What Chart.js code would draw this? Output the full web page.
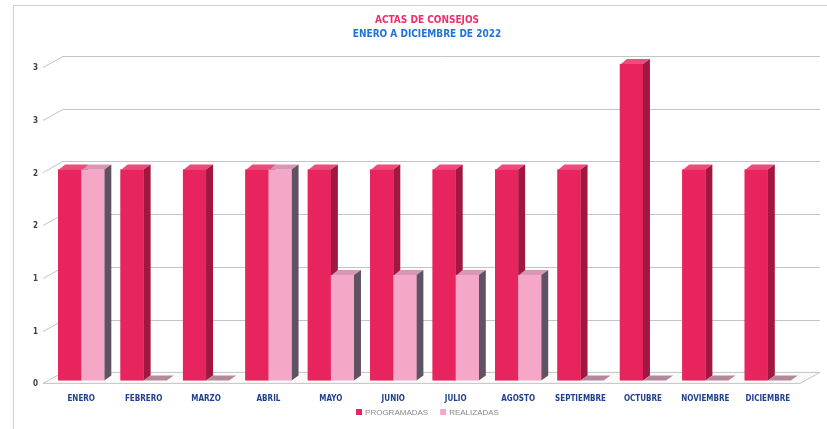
<!DOCTYPE html>
<html><head><meta charset="utf-8">
<script src="https://cdn.jsdelivr.net/npm/chart.js@4/dist/chart.umd.min.js"></script>
<style>html,body{margin:0;padding:0;background:#fff}#wrap{width:827px;height:429px;position:relative}</style>
</head><body><div id="wrap"><canvas id="c" width="827" height="429"></canvas></div>
<script>
const categories = ['ENERO','FEBRERO','MARZO','ABRIL','MAYO','JUNIO','JULIO','AGOSTO','SEPTIEMBRE','OCTUBRE','NOVIEMBRE','DICIEMBRE'];
const programadas = [2,2,2,2,2,2,2,2,2,3,2,2];
const realizadas  = [2,0,0,2,1,1,1,1,0,0,0,0];
const yTickLabels = ['0','1','1','2','2','3','3'];
const seriesNames = ['PROGRAMADAS','REALIZADAS'];
const titleText = 'ACTAS DE CONSEJOS';
const subtitleText = 'ENERO A DICIEMBRE DE 2022';

const palette = [
  {front:'#e8245e', top:'#ef4a7b', side:'#a1173f', zero:'#b07a92'},
  {front:'#f5a7c8', top:'#d996b4', side:'#5f5262', zero:'#b3889c'}
];
const FONT = "'Liberation Sans Narrow','DejaVu Sans Condensed','Liberation Sans',sans-serif";
const LEGEND_FONT = "'Liberation Sans','DejaVu Sans',sans-serif";

function poly(ctx, pts, fill){
  ctx.beginPath(); ctx.moveTo(pts[0][0], pts[0][1]);
  for (let i=1;i<pts.length;i++) ctx.lineTo(pts[i][0], pts[i][1]);
  ctx.closePath(); ctx.fillStyle = fill; ctx.fill();
}

const WX = 20, WY = 11; // back wall offset
const DX = 7, DY = 5;   // bar depth

const bar3d = {
  id: 'bar3d',
  beforeDatasetsDraw(chart){
    const ctx = chart.ctx, a = chart.chartArea, ys = chart.scales.y;
    ctx.save();
    ctx.strokeStyle = '#c4c4c4'; ctx.lineWidth = 1;
    const base = ys.getPixelForValue(0);
    ctx.beginPath();
    ctx.moveTo(a.left-7, base+3); ctx.lineTo(a.right+1, base+3);
    ctx.lineTo(a.right+1+WX, base+3-WY); ctx.lineTo(a.left-7+WX, base+3-WY);
    ctx.closePath(); ctx.fillStyle='#fafafa'; ctx.fill(); ctx.stroke();
    ys.ticks.forEach(t => {
      if (t.value === 0) return;
      const y = Math.round(ys.getPixelForValue(t.value)) + 0.5;
      ctx.beginPath();
      ctx.moveTo(a.left-7, y+3);
      ctx.lineTo(a.left-7+WX, y+3-WY);
      ctx.lineTo(a.right+1+WX, y+3-WY);
      ctx.stroke();
    });
    ctx.restore();
  },
  afterDatasetsDraw(chart){
    const ctx = chart.ctx;
    const metas = [chart.getDatasetMeta(0), chart.getDatasetMeta(1)];
    ctx.save();
    for (let i=0;i<categories.length;i++){
      metas.forEach((m,k) => {
        const p = m.data[i].getProps(['x','y','base','width'], true);
        const x0 = p.x - p.width/2, x1 = p.x + p.width/2;
        const top = Math.min(p.y, p.base), base = Math.max(p.y, p.base);
        const c = palette[k];
        if (base - top < 0.5){
          poly(ctx, [[x0,base],[x1,base],[x1+DX,base-DY],[x0+DX,base-DY]], c.zero);
        } else {
          poly(ctx, [[x0+1,top],[x1,top],[x1+DX,top-DY],[x0+DX,top-DY]], c.top);
          poly(ctx, [[x1,top],[x1+DX,top-DY],[x1+DX,base-DY],[x1,base]], c.side);
          ctx.fillStyle = c.front; ctx.fillRect(x0, top, x1-x0, base-top);
        }
      });
    }
    ctx.restore();
  }
};

const frame = {
  id: 'frame',
  beforeDraw(chart){
    const ctx = chart.ctx;
    ctx.save();
    ctx.fillStyle = '#fff'; ctx.fillRect(0,0,chart.width,chart.height);
    ctx.strokeStyle = '#cfcfcf'; ctx.lineWidth = 1;
    ctx.beginPath(); ctx.moveTo(13.5, 429); ctx.lineTo(13.5, 5.5); ctx.lineTo(827, 5.5); ctx.stroke();
    ctx.restore();
  }
};

const bottomLegend = {
  id: 'bottomLegend',
  afterDraw(chart){
    const ctx = chart.ctx;
    ctx.save();
    ctx.font = '8px ' + LEGEND_FONT;
    ctx.textBaseline = 'middle';
    const BOX = 6, GAP = 3, SEP = 12;
    const items = chart.data.datasets.map((d,k) => ({text: d.label, color: palette[k].front, w: ctx.measureText(d.label).width}));
    const total = items.reduce((s,it) => s + BOX + GAP + it.w, 0) + SEP*(items.length-1);
    const cx = (chart.chartArea.left + chart.chartArea.right)/2 + 3;
    const y = chart.height - 17;
    let x = cx - total/2;
    items.forEach(it => {
      ctx.fillStyle = it.color; ctx.fillRect(x, y-BOX/2, BOX, BOX);
      x += BOX + GAP;
      ctx.fillStyle = '#8a8a8a'; ctx.fillText(it.text, x, y+0.5);
      x += it.w + SEP;
    });
    ctx.restore();
  }
};

new Chart(document.getElementById('c'), {
  type: 'bar',
  data: {
    labels: categories,
    datasets: [
      {label: seriesNames[0], data: programadas, backgroundColor: palette[0].front, borderWidth: 0},
      {label: seriesNames[1], data: realizadas, backgroundColor: palette[1].front, borderWidth: 0}
    ]
  },
  options: {
    responsive: false, animation: false, devicePixelRatio: 1,
    layout: {padding: {left: 27, right: 0, top: 0, bottom: 19}},
    datasets: {bar: {categoryPercentage: 0.74, barPercentage: 1.0}},
    scales: {
      x: {
        grid: {display: false}, border: {display: false},
        ticks: {color: '#1f3f8f', font: {family: FONT, size: 8, weight: 'bold'}, padding: 6, maxRotation: 0, autoSkip: false}
      },
      y: {
        min: 0, max: 3,
        grid: {display: false, drawTicks: false}, border: {display: false},
        afterFit(s){ s.width = 23; },
        ticks: {stepSize: 0.5, padding: 12, labelOffset: 4, color: '#404040',
          font: {family: FONT, size: 8, weight: 'bold'},
          callback: (v, i) => yTickLabels[i]}
      },
      y2: {
        position: 'right', min: 0, max: 3,
        grid: {display: false, drawTicks: false}, border: {display: false},
        ticks: {display: false},
        afterFit(s){ s.width = 28; }
      }
    },
    plugins: {
      title: {display: true, text: titleText, color: '#ee2f6b', font: {family: FONT, size: 10, weight: 'bold'}, padding: {top: 14, bottom: 2}},
      subtitle: {display: true, text: subtitleText, color: '#1f73d6', font: {family: FONT, size: 10, weight: 'bold'}, padding: {top: 0, bottom: 24}},
      legend: {display: false},
      tooltip: {enabled: false}
    }
  },
  plugins: [frame, bar3d, bottomLegend]
});
</script></body></html>
